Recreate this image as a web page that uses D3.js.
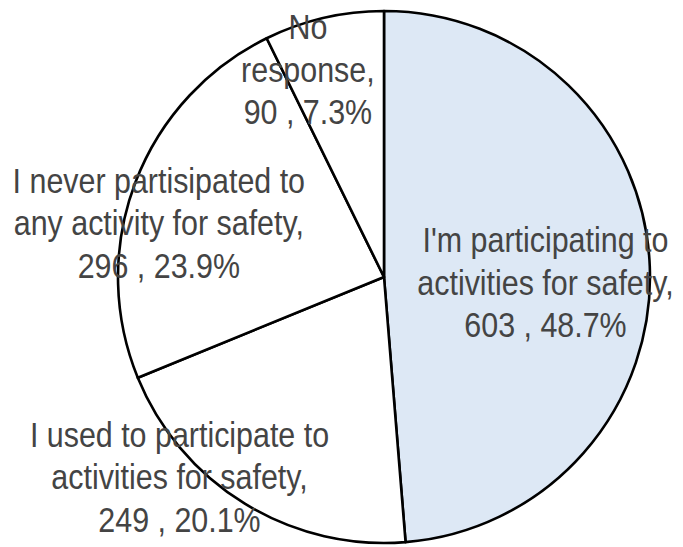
<!DOCTYPE html>
<html>
<head>
<meta charset="utf-8">
<script src="https://cdn.jsdelivr.net/npm/d3@7"></script>
<style>
  body { margin: 0; background: #fff; }
  svg { display: block; }
</style>
</head>
<body>
<div id="chart"></div>
<script>
// slice data, clockwise from 12 o'clock
const categories = [
  "I'm participating to activities for safety,",
  "I used to participate to activities for safety,",
  "I never partisipated to any activity for safety,",
  "No response,"
];
const counts = [603, 249, 296, 90];
const percents = ["48.7%", "20.1%", "23.9%", "7.3%"];
// label lines as Excel wrapped them
const labelLines = [
  ["I'm participating to", "activities for safety,"],
  ["I used to participate to", "activities for safety,"],
  ["I never partisipated to", "any activity for safety,"],
  ["No", "response,"]
];
const sliceColors = ["#dde8f5", "#ffffff", "#ffffff", "#ffffff"];

const width = 683, height = 547;
const cx = 384, cy = 277, radius = 266;

// label placement: centroid at 0.6r plus a nudge (Excel "best fit")
const labelNudge = [[2, 24], [-121, 76], [-76, 15], [-40, -40]];

const svg = d3.select("#chart").append("svg")
  .attr("width", width)
  .attr("height", height);

const g = svg.append("g")
  .attr("transform", `translate(${cx},${cy})`);

const pie = d3.pie().sort(null).value(d => d)(counts);
const arc = d3.arc().innerRadius(0).outerRadius(radius);
const labelArc = d3.arc().innerRadius(radius * 0.6).outerRadius(radius * 0.6);

g.selectAll("path.slice")
  .data(pie)
  .enter()
  .append("path")
    .attr("class", "slice")
    .attr("d", arc)
    .style("fill", (d, i) => sliceColors[i])
    .style("stroke", "#000")
    .style("stroke-width", 2.6)
    .style("stroke-linejoin", "round");

const lineH = 42.5;

pie.forEach((d, i) => {
  const c = labelArc.centroid(d);
  const x = c[0] + labelNudge[i][0];
  const y = c[1] + labelNudge[i][1];
  const lines = labelLines[i].concat([`${counts[i]} , ${percents[i]}`]);

  const t = g.append("text")
    .attr("transform", `translate(${x},${y}) scale(0.845,1)`)
    .attr("text-anchor", "middle")
    .style("font-family", "'Liberation Sans', Arial, sans-serif")
    .style("font-size", "36px")
    .style("fill", "#444444");

  lines.forEach((s, k) => {
    t.append("tspan")
      .attr("x", 0)
      .attr("y", (k - 1) * lineH)
      .text(s);
  });
});
</script>
</body>
</html>
